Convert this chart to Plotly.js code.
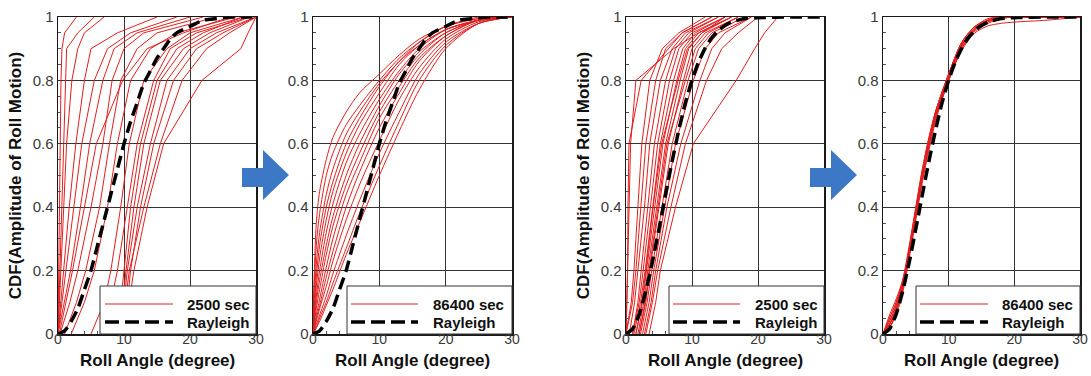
<!DOCTYPE html>
<html><head><meta charset="utf-8">
<script src="https://cdn.plot.ly/plotly-3.0.1.min.js"></script>
<style>html,body{margin:0;padding:0;background:#fff}#chart{width:1091px;height:376px}</style>
</head><body><div id="chart"></div>
<script>
const W = 1091, H = 376;

// ---------- DATA ----------
// Panels 1 & 3 (2500 sec): roll angle (deg) at which each record reaches these CDF levels
const cdfLevels = [0, 0.1, 0.2, 0.4, 0.6, 0.8, 0.9, 0.95, 1];

const p1Angles = [
  [0, 0.05, 0.1, 0.2, 0.3, 0.45, 0.6, 1.0, 2.8],
  [0, 0.15, 0.3, 0.6, 0.9, 1.1, 1.3, 3.0, 5.5],
  [0, 0.4, 0.8, 1.7, 2.7, 4.0, 5.0, 9.0, 15],
  [0.2, 1.2, 2.2, 4.0, 5.8, 9.8, 13.5, 19, 26],
  [0, 0.6, 1.2, 2.4, 3.6, 5.5, 7.5, 11, 18],
  [0, 1.0, 1.9, 3.4, 4.8, 6.8, 8.5, 12, 20],
  [0.3, 1.8, 3.0, 5.0, 6.8, 8.2, 10.0, 13, 22],
  [1.0, 2.8, 4.2, 6.3, 7.8, 9.5, 12.0, 15, 24],
  [2.0, 4.0, 5.5, 7.5, 9.0, 11.0, 14.0, 18, 27],
  [5.0, 7.0, 8.0, 9.5, 10.8, 13.0, 16.5, 20, 28],
  [6.5, 8.0, 9.0, 10.5, 12.0, 14.5, 17.0, 21, 29],
  [8.5, 9.5, 10.0, 11.0, 12.5, 15.0, 18.0, 22, 28],
  [9.0, 9.8, 10.3, 11.5, 13.0, 15.5, 19.0, 23, 29],
  [9.5, 10.0, 10.5, 12.0, 14.0, 16.5, 20.0, 24, 30],
  [10.0, 10.5, 11.0, 12.5, 14.5, 17.5, 21.0, 25, 30],
  [9.8, 10.2, 10.8, 13.0, 15.5, 18.8, 22.5, 26, 30],
  [10.0, 10.8, 11.5, 13.5, 16.0, 21.8, 27.7, 28.8, 30],
  [0, 0.2, 0.4, 0.8, 1.3, 2.1, 3.0, 4.0, 7.0]
];

const p3Angles = [
  [0, 0.1, 0.2, 0.4, 0.7, 1.5, 7.2, 11, 16],
  [0, 0.15, 0.25, 0.3, 0.45, 2.3, 6.5, 8.5, 13],
  [0, 0.8, 1.2, 1.8, 2.4, 3.6, 5.5, 8, 12],
  [0.5, 1.3, 1.8, 2.8, 3.6, 5.2, 7.0, 9, 14],
  [1.0, 1.8, 2.3, 3.3, 4.3, 6.0, 7.5, 9.5, 14],
  [1.0, 2.0, 2.6, 3.7, 4.8, 6.6, 8.0, 10, 15],
  [1.2, 2.2, 2.9, 4.0, 5.2, 7.2, 8.6, 10.5, 15],
  [1.5, 2.5, 3.1, 4.3, 5.6, 7.7, 9.0, 11, 16],
  [1.8, 2.7, 3.3, 4.6, 6.0, 8.2, 9.5, 11.5, 16],
  [2.0, 3.0, 3.6, 5.0, 6.4, 8.7, 10.0, 12, 17],
  [2.2, 3.2, 3.9, 5.4, 7.0, 9.4, 11.0, 13, 18],
  [2.5, 3.5, 4.2, 5.8, 7.5, 10.2, 12.0, 14, 19],
  [2.8, 3.8, 4.5, 6.2, 8.3, 11.2, 13.0, 15, 19],
  [3.0, 4.0, 4.8, 6.8, 9.0, 12.2, 14.5, 17, 20],
  [3.5, 4.5, 5.2, 7.5, 10.2, 16.7, 19.5, 21, 23],
  [0, 1.0, 1.5, 2.3, 3.0, 4.5, 6.0, 8.5, 13],
  [1.5, 2.4, 3.0, 4.1, 5.4, 7.9, 9.3, 11.5, 15],
  [2.0, 2.9, 3.5, 4.8, 6.2, 9.0, 10.5, 12.5, 17]
];

// Panel 2 (86400 sec): CDF value of each record at these roll angles
const p2AngleGrid = [0, 0.5, 1, 2, 3, 5, 7, 10, 13, 16, 20, 25, 30];
const p2Cdf = [
  [0.05, 0.35, 0.45, 0.55, 0.62, 0.70, 0.76, 0.82, 0.88, 0.93, 0.97, 1.0, 1.0],
  [0.05, 0.28, 0.38, 0.50, 0.57, 0.66, 0.72, 0.80, 0.87, 0.92, 0.97, 0.995, 1.0],
  [0.03, 0.22, 0.32, 0.44, 0.52, 0.63, 0.70, 0.79, 0.86, 0.92, 0.97, 0.995, 1.0],
  [0.03, 0.18, 0.28, 0.40, 0.48, 0.60, 0.68, 0.78, 0.86, 0.91, 0.96, 0.99, 1.0],
  [0.02, 0.15, 0.24, 0.36, 0.45, 0.57, 0.66, 0.76, 0.85, 0.91, 0.96, 0.99, 1.0],
  [0.02, 0.12, 0.20, 0.32, 0.41, 0.54, 0.63, 0.74, 0.83, 0.90, 0.96, 0.99, 1.0],
  [0.01, 0.10, 0.17, 0.28, 0.37, 0.50, 0.60, 0.72, 0.82, 0.89, 0.95, 0.99, 1.0],
  [0.01, 0.08, 0.14, 0.25, 0.34, 0.47, 0.57, 0.70, 0.80, 0.88, 0.95, 0.99, 1.0],
  [0.01, 0.06, 0.11, 0.21, 0.30, 0.44, 0.54, 0.68, 0.78, 0.87, 0.94, 0.99, 1.0],
  [0, 0.05, 0.09, 0.18, 0.26, 0.40, 0.51, 0.65, 0.76, 0.86, 0.94, 0.99, 1.0],
  [0, 0.04, 0.08, 0.15, 0.23, 0.36, 0.47, 0.61, 0.74, 0.84, 0.93, 0.985, 1.0],
  [0, 0.03, 0.06, 0.12, 0.19, 0.31, 0.42, 0.57, 0.70, 0.82, 0.92, 0.98, 1.0],
  [0, 0.02, 0.05, 0.10, 0.16, 0.27, 0.38, 0.53, 0.67, 0.80, 0.91, 0.98, 1.0],
  [0, 0.02, 0.04, 0.09, 0.14, 0.25, 0.35, 0.50, 0.64, 0.77, 0.90, 0.98, 1.0]
];

// Panel 4 (86400 sec)
const p4AngleGrid = [0, 1, 2, 3, 4, 5, 6, 7, 8, 10, 12, 14, 16, 18, 20, 25, 30];
const p4Cdf = [
  [0, 0.05, 0.10, 0.17, 0.28, 0.40, 0.52, 0.62, 0.70, 0.82, 0.92, 0.97, 0.99, 1, 1, 1, 1],
  [0, 0.04, 0.09, 0.16, 0.27, 0.39, 0.51, 0.61, 0.69, 0.81, 0.91, 0.965, 0.99, 1, 1, 1, 1],
  [0, 0.03, 0.08, 0.15, 0.26, 0.38, 0.50, 0.60, 0.69, 0.81, 0.91, 0.96, 0.985, 0.997, 1, 1, 1],
  [0, 0.02, 0.07, 0.14, 0.25, 0.37, 0.49, 0.59, 0.68, 0.80, 0.90, 0.96, 0.985, 0.995, 1, 1, 1],
  [0, 0.06, 0.11, 0.17, 0.27, 0.39, 0.51, 0.61, 0.70, 0.82, 0.92, 0.97, 0.99, 1, 1, 1, 1],
  [0, 0.03, 0.08, 0.16, 0.27, 0.40, 0.52, 0.62, 0.70, 0.81, 0.91, 0.965, 0.99, 1, 1, 1, 1],
  [0, 0.02, 0.07, 0.15, 0.26, 0.38, 0.50, 0.60, 0.68, 0.80, 0.90, 0.955, 0.98, 0.995, 1, 1, 1],
  [0, 0.04, 0.09, 0.16, 0.26, 0.38, 0.50, 0.61, 0.70, 0.82, 0.915, 0.965, 0.99, 1, 1, 1, 1],
  [0, 0.02, 0.06, 0.13, 0.24, 0.36, 0.48, 0.58, 0.67, 0.80, 0.895, 0.95, 0.972, 0.98, 0.984, 0.99, 1],
  [0, 0.03, 0.08, 0.15, 0.25, 0.37, 0.49, 0.60, 0.69, 0.81, 0.91, 0.965, 0.99, 1, 1, 1, 1],
  [0, 0.05, 0.10, 0.16, 0.26, 0.39, 0.51, 0.61, 0.69, 0.80, 0.905, 0.96, 0.99, 1, 1, 1, 1],
  [0, 0.03, 0.07, 0.14, 0.25, 0.38, 0.50, 0.61, 0.70, 0.82, 0.92, 0.97, 0.995, 1, 1, 1, 1]
];

// Rayleigh reference curves
const rayAnglesWide = [0, 1, 2, 3, 4, 5, 6, 7, 8, 9, 10, 11, 12, 13, 14, 15, 16, 17, 18, 20, 22, 24, 26, 28, 30];
const rayCdfWide    = [0, 0.01, 0.04, 0.08, 0.14, 0.20, 0.28, 0.36, 0.44, 0.52, 0.60, 0.67, 0.73, 0.79, 0.83, 0.87, 0.90, 0.93, 0.95, 0.97, 0.99, 0.995, 1, 1, 1];
const rayAnglesNarrow = [0, 1, 2, 3, 4, 5, 6, 7, 8, 9, 10, 11, 12, 13, 14, 15, 16, 18, 20, 25, 30];
const rayCdfNarrow    = [0, 0.016, 0.062, 0.135, 0.227, 0.332, 0.44, 0.546, 0.643, 0.73, 0.80, 0.858, 0.902, 0.935, 0.957, 0.973, 0.984, 0.995, 0.998, 1, 1];

const seriesNames = ['2500 sec', '86400 sec', '2500 sec', '86400 sec'];
const refName = 'Rayleigh';
const xTitle = 'Roll Angle (degree)';
const yTitle = 'CDF(Amplitude of Roll Motion)';

// ---------- STYLE ----------
const RED = 'rgb(228,30,30)';
const FONT = 'Arial, "Liberation Sans", sans-serif';
const traces = [];

function addLevelCurves(curves, ax, k) {
  curves.forEach(c => traces.push({
    x: c, y: cdfLevels, xaxis: 'x' + ax, yaxis: 'y' + ax, type: 'scatter', mode: 'lines',
    line: {color: RED, width: 1}, name: seriesNames[k], showlegend: false, hoverinfo: 'skip'
  }));
}
function addGridCurves(grid, curves, ax, k) {
  curves.forEach(c => traces.push({
    x: grid, y: c, xaxis: 'x' + ax, yaxis: 'y' + ax, type: 'scatter', mode: 'lines',
    line: {color: RED, width: 1, shape: 'spline', smoothing: 0.8}, name: seriesNames[k], showlegend: false, hoverinfo: 'skip'
  }));
}
function addRay(xs, ys, ax) {
  traces.push({
    x: xs, y: ys, xaxis: 'x' + ax, yaxis: 'y' + ax, type: 'scatter', mode: 'lines',
    line: {color: '#000', width: 3.5, dash: '12px,6px', shape: 'spline', smoothing: 0.6},
    name: refName, showlegend: false, hoverinfo: 'skip'
  });
}
addLevelCurves(p1Angles, '', 0);
addRay(rayAnglesWide, rayCdfWide, '');
addGridCurves(p2AngleGrid, p2Cdf, '2', 1);
addRay(rayAnglesWide, rayCdfWide, '2');
addLevelCurves(p3Angles, '3', 2);
addRay(rayAnglesNarrow, rayCdfNarrow, '3');
addGridCurves(p4AngleGrid, p4Cdf, '4', 3);
addRay(rayAnglesNarrow, rayCdfNarrow, '4');

// plot areas in pixels
const panels = [[58, 256], [313, 512], [626, 824], [883, 1080]];
const plotTop = 17, plotBottom = 334;
const px = v => v / W, py = v => 1 - v / H;

const layout = {
  width: W, height: H, margin: {l: 0, r: 0, t: 0, b: 0},
  paper_bgcolor: '#fff', plot_bgcolor: '#fff', showlegend: false,
  font: {family: FONT, color: '#333'},
  shapes: [], annotations: []
};

function xAxis(i) {
  return {
    domain: [px(panels[i][0]), px(panels[i][1])], anchor: i === 0 ? 'y' : 'y' + (i + 1),
    range: [0, 30], tick0: 0, dtick: 10, showgrid: true, gridcolor: '#333', gridwidth: 1,
    zeroline: false, showline: true, mirror: true, linecolor: '#1a1a1a', linewidth: 1.5,
    ticks: 'inside', ticklen: 6, tickcolor: '#333', tickwidth: 1,
    minor: {dtick: 2, tick0: 0, ticks: 'inside', ticklen: 3, tickcolor: '#555', showgrid: false},
    tickfont: {family: FONT, size: 14, color: '#3a3a3a'}, ticklabelstandoff: -8,
    automargin: false, fixedrange: true
  };
}
function yAxis(i) {
  const ax = {
    domain: [py(plotBottom), py(plotTop)], anchor: i === 0 ? 'x' : 'x' + (i + 1),
    range: [0, 1], tick0: 0, dtick: 0.2, showgrid: true, gridcolor: '#333', gridwidth: 1,
    zeroline: false, showline: true, mirror: true, linecolor: '#1a1a1a', linewidth: 1.5,
    ticks: 'inside', ticklen: 6, tickcolor: '#333', tickwidth: 1,
    minor: {dtick: 0.05, tick0: 0, ticks: 'inside', ticklen: 3, tickcolor: '#555', showgrid: false},
    tickfont: {family: FONT, size: 15, color: '#3a3a3a'},
    automargin: false, fixedrange: true
  };
  if (i === 0 || i === 2) ax.title = {text: yTitle, font: {family: FONT, size: 17, weight: 'bold', color: '#111'}, standoff: 6};
  return ax;
}
for (let i = 0; i < 4; i++) {
  const s = i === 0 ? '' : String(i + 1);
  layout['xaxis' + s] = xAxis(i);
  layout['yaxis' + s] = yAxis(i);
  // x-axis title placed tight under the tick labels, as in the original
  layout.annotations.push({xref: 'paper', yref: 'paper', x: px((panels[i][0] + panels[i][1]) / 2), y: py(360),
    xanchor: 'center', yanchor: 'middle', showarrow: false, text: xTitle,
    font: {family: FONT, size: 17, weight: 'bold', color: '#111'}});
}

// hand-drawn legends (long line samples as in the original)
const legends = [
  {box: [100, 256], line: [105, 173], text: 185},
  {box: [347, 512], line: [351, 418], text: 431},
  {box: [669, 824], line: [673, 740], text: 753},
  {box: [916, 1080], line: [920, 988], text: 1000}
];
const legTop = 286, row1 = 304, row2 = 322;
legends.forEach((L, i) => {
  layout.shapes.push({type: 'rect', xref: 'paper', yref: 'paper', layer: 'above',
    x0: px(L.box[0]), x1: px(L.box[1]), y0: py(plotBottom), y1: py(legTop),
    fillcolor: '#fff', line: {color: '#333', width: 1}});
  layout.shapes.push({type: 'line', xref: 'paper', yref: 'paper', layer: 'above',
    x0: px(L.line[0]), x1: px(L.line[1]), y0: py(row1), y1: py(row1), line: {color: RED, width: 1}});
  layout.shapes.push({type: 'line', xref: 'paper', yref: 'paper', layer: 'above',
    x0: px(L.line[0]), x1: px(L.line[1]), y0: py(row2), y1: py(row2), line: {color: '#000', width: 3.5, dash: '14px,6px'}});
  [[seriesNames[i], row1], [refName, row2]].forEach(([t, r]) => layout.annotations.push({
    xref: 'paper', yref: 'paper', x: px(L.text), y: py(r), xanchor: 'left', yanchor: 'middle',
    text: t, showarrow: false, font: {family: FONT, size: 15, weight: 'bold', color: '#111'}}));
});

// blue arrows between panels
function arrow(x0) {
  const pts = [[x0, 168], [x0 + 21, 168], [x0 + 21, 150], [x0 + 47, 175], [x0 + 21, 200], [x0 + 21, 187], [x0, 187]];
  return 'M' + pts.map(p => px(p[0]).toFixed(5) + ',' + py(p[1]).toFixed(5)).join(' L') + ' Z';
}
[242, 810].forEach(x0 => layout.shapes.push({type: 'path', xref: 'paper', yref: 'paper', layer: 'above',
  path: arrow(x0), fillcolor: '#3d78c6', line: {width: 0}}));

Plotly.newPlot('chart', traces, layout, {displayModeBar: false, staticPlot: true});
</script></body></html>
